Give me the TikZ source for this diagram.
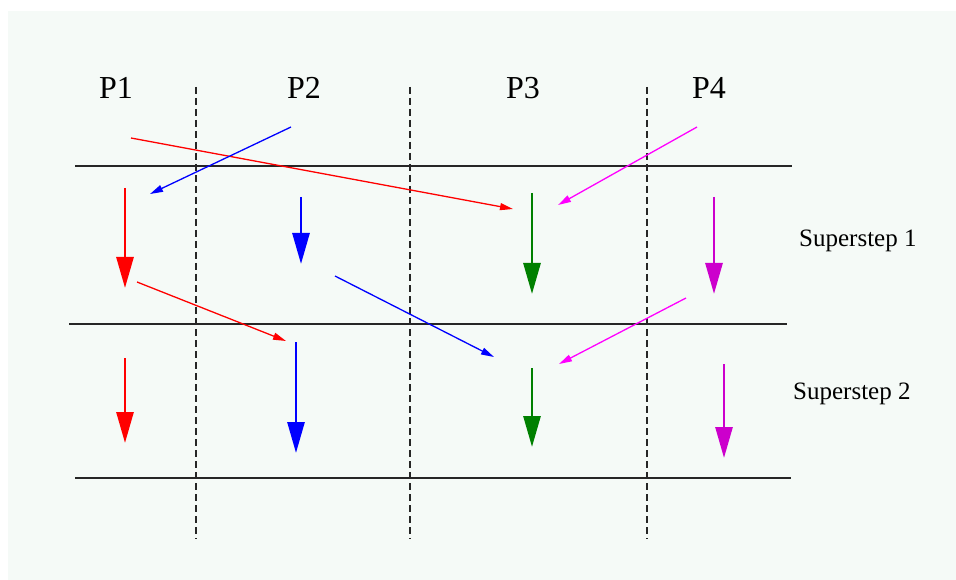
\documentclass[tikz,border=0pt]{standalone}
\usepackage{fontspec}
\setmainfont{Liberation Serif}
\usetikzlibrary{arrows.meta}
\definecolor{bg}{RGB}{245,250,247}
\definecolor{pgreen}{RGB}{0,128,0}
\definecolor{pmag}{RGB}{255,0,255}
\definecolor{pmagd}{RGB}{204,0,204}
\tikzset{
  plabel/.style={anchor=base west, inner sep=0pt, font=\fontsize{32}{38}\selectfont},
  slabel/.style={anchor=base west, inner sep=0pt, font=\fontsize{25}{30}\selectfont},
  sep/.style={dash pattern=on 7pt off 4pt, line width=1.1pt, black!85},
  barrier/.style={line width=1.6pt, black!85},
  work/.style={line width=2.8pt, -{Triangle[length=31pt,width=17pt]}},
  msg/.style={line width=1.3pt, -{Triangle[length=13pt,width=7pt]}}
}
\begin{document}
\begin{tikzpicture}[x=1pt,y=-1pt]
\useasboundingbox (0,0) rectangle (956,580);
\fill[bg] (8,11) rectangle (956,580);

% labels
\node[plabel] (p1) at (99,99) {P1};
\node[plabel] (p2) at (287,99) {P2};
\node[plabel] (p3) at (506,99) {P3};
\node[plabel] (p4) at (692,99) {P4};
\node[slabel] (s1) at (799,247) {Superstep 1};
\node[slabel] (s2) at (793,399) {Superstep 2};

% dashed separators
\coordinate (d1t) at (196,87); \coordinate (d1b) at (196,539);
\coordinate (d2t) at (410,87); \coordinate (d2b) at (410,539);
\coordinate (d3t) at (647,87); \coordinate (d3b) at (647,539);
\draw[sep] (d1t) -- (d1b);
\draw[sep] (d2t) -- (d2b);
\draw[sep] (d3t) -- (d3b);

% barriers
\coordinate (b1l) at (75,166); \coordinate (b1r) at (792,166);
\coordinate (b2l) at (69,324); \coordinate (b2r) at (787,324);
\coordinate (b3l) at (75,478); \coordinate (b3r) at (791,478);
\draw[barrier] (b1l) -- (b1r);
\draw[barrier] (b2l) -- (b2r);
\draw[barrier] (b3l) -- (b3r);

% messages before superstep 1
\coordinate (m1s) at (131,138); \coordinate (m1e) at (513,209);
\coordinate (m2s) at (291,127); \coordinate (m2e) at (150,194);
\coordinate (m3s) at (697,127); \coordinate (m3e) at (558,205);
\draw[msg, red] (m1s) -- (m1e);
\draw[msg, blue] (m2s) -- (m2e);
\draw[msg, pmag] (m3s) -- (m3e);

% work superstep 1
\coordinate (w1s) at (125,188); \coordinate (w1e) at (125,288);
\coordinate (w2s) at (301,197); \coordinate (w2e) at (301,264);
\coordinate (w3s) at (532,193); \coordinate (w3e) at (532,294);
\coordinate (w4s) at (714,197); \coordinate (w4e) at (714,294);
\draw[work, red] (w1s) -- (w1e);
\draw[work, blue] (w2s) -- (w2e);
\draw[work, pgreen] (w3s) -- (w3e);
\draw[work, pmagd] (w4s) -- (w4e);

% messages before superstep 2
\coordinate (n1s) at (137,282); \coordinate (n1e) at (286,341);
\coordinate (n2s) at (335,276); \coordinate (n2e) at (494,357);
\coordinate (n3s) at (686,298); \coordinate (n3e) at (559,364);
\draw[msg, red] (n1s) -- (n1e);
\draw[msg, blue] (n2s) -- (n2e);
\draw[msg, pmag] (n3s) -- (n3e);

% work superstep 2
\coordinate (v1s) at (125,358); \coordinate (v1e) at (125,443);
\coordinate (v2s) at (296,342); \coordinate (v2e) at (296,453);
\coordinate (v3s) at (532,368); \coordinate (v3e) at (532,447);
\coordinate (v4s) at (724,364); \coordinate (v4e) at (724,458);
\draw[work, red] (v1s) -- (v1e);
\draw[work, blue] (v2s) -- (v2e);
\draw[work, pgreen] (v3s) -- (v3e);
\draw[work, pmagd] (v4s) -- (v4e);
\end{tikzpicture}
\end{document}
